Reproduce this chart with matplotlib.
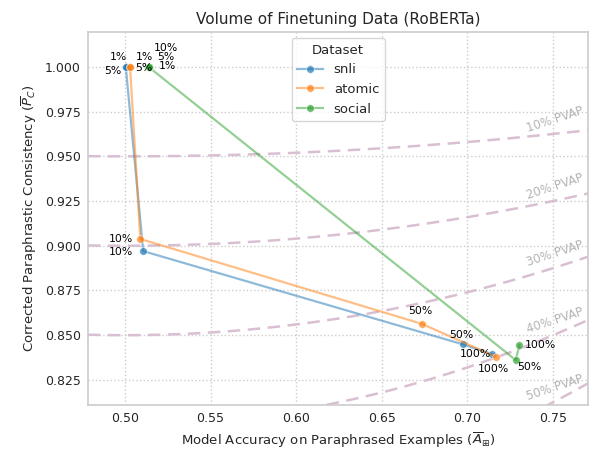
import numpy as np
import matplotlib
matplotlib.use('Agg')
import matplotlib.pyplot as plt
from matplotlib.colors import to_rgba

# fraction of finetuning data used at each point
pcts = ['1%', '5%', '10%', '50%', '100%']

snli_acc = [0.5005, 0.5005, 0.5107, 0.6973, 0.7146]
snli_pc = [1.000, 1.000, 0.897, 0.8449, 0.8393]
atomic_acc = [0.503, 0.503, 0.509, 0.6735, 0.7165]
atomic_pc = [1.000, 1.000, 0.9038, 0.8563, 0.838]
social_acc = [0.5138, 0.5138, 0.5138, 0.7282, 0.7303]
social_pc = [1.000, 1.000, 1.000, 0.8361, 0.8445]

pvap_levels = [0.1, 0.2, 0.3, 0.4, 0.5]

# label offsets (pixels) so the annotations don't pile up
offsets = {
    'snli': [(-7, 10), (-13, -4), (-22, -1), (-2, 9), (-17, 0)],
    'atomic': [(14, 10), (14, -1), (-19, 0), (-2, 13), (-2, -12)],
    'social': [(19, 1), (17, 10), (17, 19), (14, -7), (21, 0)],
}

series = [
    ('snli', snli_acc, snli_pc, '#1f77b4'),
    ('atomic', atomic_acc, atomic_pc, '#ff7f0e'),
    ('social', social_acc, social_pc, '#2ca02c'),
]

plt.rcParams.update({
    'font.family': 'DejaVu Sans',
    'axes.edgecolor': '#cccccc',
    'axes.linewidth': 1.2,
    'text.color': '#262626',
    'axes.labelcolor': '#262626',
    'xtick.color': '#262626',
    'ytick.color': '#262626',
})

fig = plt.figure(figsize=(5.9, 4.55), dpi=100)
ax = fig.add_axes([0.149, 0.110, 0.848, 0.820])
xlim = (0.4784, 0.7705)
ylim = (0.811, 1.0196)

ax.grid(True, linestyle=':', color='#cccccc', linewidth=1.0)
ax.set_axisbelow(True)

xs = np.linspace(xlim[0], xlim[1], 200)
for p in pvap_levels:
    ax.plot(xs, 1 - 2 * p * xs * (1 - xs), ls=(0, (5, 3)), lw=1.8,
            color='#d9bfd2', zorder=1)
    xl = 0.7512
    ax.annotate('{:d}% PVAP'.format(int(round(p * 100))),
                (xl, 1 - 2 * p * xl * (1 - xl)), xytext=(0, 14),
                textcoords='offset pixels', ha='center', va='center',
                rotation=18, fontsize=8.5, color='#b3b3b3')

for name, acc, pc, c in series:
    ax.plot(acc, pc, color=to_rgba(c, 0.5), lw=1.6, marker='o', ms=5.5,
            mfc=to_rgba(c, 0.7), mec=to_rgba('white', 0.6), mew=0.6,
            label=name, zorder=3)
    for i, lab in enumerate(pcts):
        ax.annotate(lab, (acc[i], pc[i]), xytext=offsets[name][i],
                    textcoords='offset pixels', ha='center', va='center',
                    fontsize=7.8, color='black', zorder=4)

ax.set_xlim(*xlim)
ax.set_ylim(*ylim)
ax.set_xticks([0.50, 0.55, 0.60, 0.65, 0.70, 0.75])
ax.set_yticks([0.825, 0.850, 0.875, 0.900, 0.925, 0.950, 0.975, 1.000])
ax.tick_params(labelsize=9, length=0, pad=5)
ax.set_xlabel(r'Model Accuracy on Paraphrased Examples ($\overline{A}_{\boxplus}$)', fontsize=9.5)
ax.set_ylabel(r'Corrected Paraphrastic Consistency ($\overline{P}_C$)', fontsize=9.5)
ax.set_title('Volume of Finetuning Data (RoBERTa)', fontsize=11)

leg = ax.legend(title='Dataset', loc='upper center', bbox_to_anchor=(0.50, 1.0),
                fontsize=9.5, title_fontsize=9.5, frameon=True)
leg.get_frame().set_edgecolor('#cccccc')

fig.savefig('out.png', dpi=100)
